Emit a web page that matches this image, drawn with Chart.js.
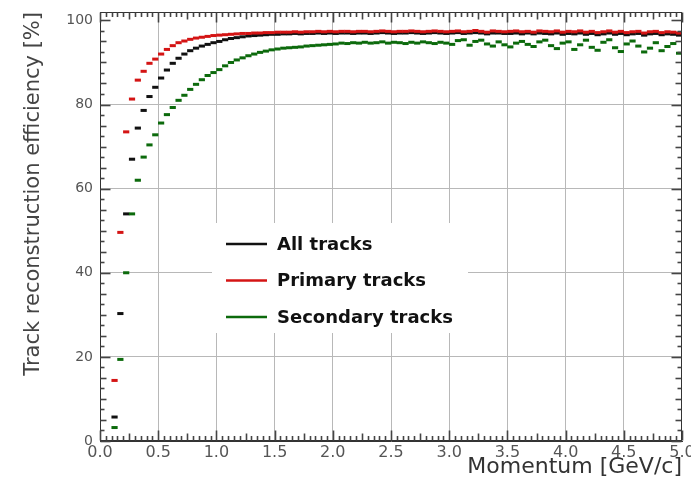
<!DOCTYPE html>
<html><head><meta charset="utf-8">
<script src="https://cdn.jsdelivr.net/npm/chart.js@4.4.1/dist/chart.umd.min.js"></script>
<style>html,body{margin:0;padding:0;background:#fff;overflow:hidden}#wrap{width:691px;height:487px}</style>
</head><body>
<div id="wrap"><canvas id="c" width="691" height="487"></canvas></div>
<script>
// Bin centres of the momentum histogram [GeV/c]
const momentum = [
 0.125,0.175,0.225,0.275,0.325,0.375,0.425,0.475,0.525,0.575,
 0.625,0.675,0.725,0.775,0.825,0.875,0.925,0.975,1.025,1.075,
 1.125,1.175,1.225,1.275,1.325,1.375,1.425,1.475,1.525,1.575,
 1.625,1.675,1.725,1.775,1.825,1.875,1.925,1.975,2.025,2.075,
 2.125,2.175,2.225,2.275,2.325,2.375,2.425,2.475,2.525,2.575,
 2.625,2.675,2.725,2.775,2.825,2.875,2.925,2.975,3.025,3.075,
 3.125,3.175,3.225,3.275,3.325,3.375,3.425,3.475,3.525,3.575,
 3.625,3.675,3.725,3.775,3.825,3.875,3.925,3.975,4.025,4.075,
 4.125,4.175,4.225,4.275,4.325,4.375,4.425,4.475,4.525,4.575,
 4.625,4.675,4.725,4.775,4.825,4.875,4.925,4.975
];
const allTracks = [
 5.7,30.3,54.0,67.0,74.4,78.6,81.9,84.1,86.3,88.2,
 89.8,91.0,92.0,92.8,93.4,93.9,94.3,94.7,95.0,95.4,
 95.7,95.9,96.1,96.3,96.4,96.5,96.6,96.7,96.7,96.8,
 96.8,96.9,96.8,96.9,96.9,97.0,96.9,97.0,96.9,97.0,
 97.0,96.9,97.0,97.0,96.9,97.0,97.1,97.0,96.9,97.0,
 97.0,97.1,97.0,96.9,97.0,97.1,97.0,96.9,97.0,97.1,
 96.9,97.0,97.1,97.0,96.8,97.0,97.0,96.9,96.9,97.0,
 96.8,97.0,96.8,97.0,96.9,96.8,97.0,96.7,96.9,96.8,
 97.0,96.7,96.9,96.6,96.8,97.0,96.7,96.9,96.6,96.8,
 96.9,96.5,96.8,96.9,96.6,96.8,96.7,96.5
];
const primaryTracks = [
 14.4,49.6,73.5,81.3,85.8,87.9,89.8,90.8,92.0,93.1,
 94.0,94.7,95.1,95.5,95.8,96.0,96.2,96.4,96.5,96.6,
 96.7,96.8,96.9,96.9,97.0,97.0,97.1,97.1,97.2,97.2,
 97.2,97.3,97.2,97.3,97.3,97.4,97.3,97.4,97.3,97.4,
 97.4,97.3,97.4,97.4,97.3,97.4,97.5,97.4,97.3,97.4,
 97.4,97.5,97.4,97.3,97.4,97.5,97.4,97.3,97.4,97.5,
 97.3,97.4,97.6,97.4,97.2,97.5,97.4,97.3,97.4,97.5,
 97.3,97.4,97.2,97.5,97.4,97.3,97.5,97.2,97.4,97.3,
 97.5,97.2,97.4,97.1,97.3,97.5,97.2,97.4,97.1,97.3,
 97.4,97.0,97.3,97.4,97.1,97.3,97.2,97.0
];
const secondaryTracks = [
 3.2,19.4,40.0,54.0,62.0,67.5,70.4,72.8,75.6,77.6,
 79.3,81.0,82.2,83.6,84.8,85.9,86.9,87.6,88.3,89.2,
 90.0,90.6,91.1,91.6,92.0,92.4,92.7,93.0,93.2,93.4,
 93.5,93.6,93.7,93.9,94.0,94.1,94.2,94.3,94.4,94.6,
 94.5,94.7,94.6,94.8,94.6,94.7,94.9,94.6,94.8,94.7,
 94.5,94.8,94.6,94.9,94.7,94.5,94.8,94.6,94.3,95.2,
 95.4,94.1,95.0,95.3,94.4,93.9,94.9,94.2,93.7,94.6,
 95.0,94.3,93.8,94.9,95.3,94.0,93.3,94.6,94.9,93.1,
 94.2,95.3,93.6,92.9,94.8,95.4,93.5,92.6,94.4,95.1,
 93.9,92.5,93.4,94.7,92.8,93.8,94.5,92.2
];
const seriesLabels = ['All tracks', 'Primary tracks', 'Secondary tracks'];
const seriesColors = ['#111111', '#d41414', '#0c6a0c'];
const xTickValues = [0, 0.5, 1.0, 1.5, 2.0, 2.5, 3.0, 3.5, 4.0, 4.5, 5.0];
const yTickValues = [0, 20, 40, 60, 80, 100];
const xTitle = 'Momentum [GeV/c]';
const yTitle = 'Track reconstruction efficiency [%]';

Chart.defaults.font.family = "'DejaVu Sans', sans-serif";

function toPoints(arr) { return momentum.map((x, i) => ({ x: x, y: arr[i] })); }
function ds(i, arr, order) {
  return {
    label: seriesLabels[i], data: toPoints(arr), order: order,
    showLine: false, pointStyle: 'line', pointRadius: 3.1, pointHoverRadius: 3.1,
    pointBorderWidth: 3, pointBorderColor: seriesColors[i], pointBackgroundColor: seriesColors[i],
    borderColor: seriesColors[i], backgroundColor: seriesColors[i]
  };
}

function seg(ctx, x1, y1, x2, y2) {
  ctx.beginPath(); ctx.moveTo(x1, y1); ctx.lineTo(x2, y2); ctx.stroke();
}

function drawFrame(chart) {
  const ctx = chart.ctx;
  const a = chart.chartArea;
  const xs = chart.scales.x, ys = chart.scales.y;
  ctx.save();
  ctx.strokeStyle = '#333333';
  ctx.lineWidth = 1;
  const L = Math.round(a.left) + 0.5, R = Math.round(a.right) - 0.5;
  const T = Math.round(a.top) + 0.5, B = Math.round(a.bottom) - 0.5;
  ctx.strokeRect(L, T, R - L, B - T);
  ctx.lineWidth = 1.6;
  ctx.strokeStyle = '#444444';
  for (let k = 0; k <= 100; k++) {
    const px = Math.round(xs.getPixelForValue(k * 0.05)) + 0.5;
    const len = (k % 10 === 0) ? 10 : (k % 5 === 0 ? 7 : 4.5);
    seg(ctx, px, B, px, B - len);
    seg(ctx, px, T, px, T + len);
  }
  for (let k = 0; k <= 40; k++) {
    const py = Math.round(ys.getPixelForValue(k * 2.5)) + 0.5;
    const len = (k % 8 === 0) ? 10 : (k % 2 === 0 ? 6 : 4);
    seg(ctx, L, py, L + len, py);
    seg(ctx, R, py, R - len, py);
  }
  ctx.restore();
}

function drawLegend(chart) {
  const ctx = chart.ctx;
  ctx.save();
  ctx.fillStyle = '#ffffff';
  ctx.fillRect(212, 223, 256, 110);
  chart.data.datasets.forEach((d, i) => {
    const yy = 244 + i * 36.5;
    ctx.strokeStyle = d.pointBorderColor;
    ctx.lineWidth = 2.5;
    seg(ctx, 226, yy, 267, yy);
    ctx.fillStyle = '#111';
    ctx.font = "bold 18px 'DejaVu Sans'";
    ctx.textBaseline = 'middle';
    ctx.textAlign = 'left';
    ctx.fillText(d.label, 277, yy + 1);
  });
  ctx.restore();
}

const overlayPlugin = {
  id: 'overlay',
  afterDraw(chart) { drawLegend(chart); drawFrame(chart); }
};

new Chart(document.getElementById('c'), {
  type: 'scatter',
  data: { datasets: [ ds(0, allTracks, 3), ds(1, primaryTracks, 1), ds(2, secondaryTracks, 2) ] },
  options: {
    responsive: false, animation: false, devicePixelRatio: 1, events: [],
    layout: { padding: { top: 12, right: 9, left: 0, bottom: 0 }, autoPadding: false },
    plugins: { legend: { display: false }, tooltip: { enabled: false } },
    scales: {
      x: {
        type: 'linear', min: 0, max: 5,
        afterBuildTicks: s => { s.ticks = xTickValues.map(v => ({ value: v })); },
        afterFit: s => { s.height = 46; s.paddingLeft = 0; s.paddingRight = 0; },
        ticks: { font: { size: 16 }, color: '#555', padding: 2, maxRotation: 0, autoSkip: false,
                 callback: v => Number(v).toFixed(1) },
        grid: { drawTicks: false, lineWidth: 1,
                color: c => (c.tick && c.tick.value > 0 && c.tick.value < 5) ? '#b8b8b8' : 'rgba(0,0,0,0)' },
        border: { display: true, color: '#333', width: 1 },
        title: { display: true, text: xTitle, align: 'end', color: '#333', font: { size: 22 },
                 padding: { top: 0, bottom: 7 } }
      },
      y: {
        type: 'linear', min: 0, max: 102,
        afterBuildTicks: s => { s.ticks = yTickValues.map(v => ({ value: v })); },
        afterFit: s => { s.width = 100; s.paddingTop = 0; s.paddingBottom = 0; },
        ticks: { font: { size: 14 }, color: '#555', padding: 7, autoSkip: false,
                 callback: v => String(v) },
        grid: { drawTicks: false, lineWidth: 1,
                color: c => (c.tick && c.tick.value > 0 && c.tick.value < 100) ? '#b8b8b8' : 'rgba(0,0,0,0)' },
        border: { display: true, color: '#333', width: 1 },
        title: { display: true, text: yTitle, align: 'end', color: '#444', font: { size: 21 },
                 padding: { top: 21, bottom: 0 } }
      }
    }
  },
  plugins: [overlayPlugin]
});
</script>
</body></html>
